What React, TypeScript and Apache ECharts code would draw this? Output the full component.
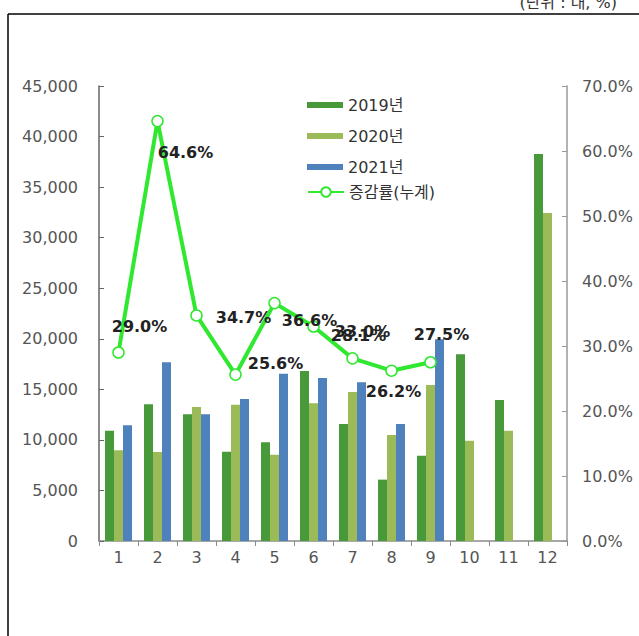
import React, { useEffect, useRef } from "react";
import * as echarts from "echarts";

const months = ["1", "2", "3", "4", "5", "6", "7", "8", "9", "10", "11", "12"];
const sales2019 = [10910, 13520, 12530, 8830, 9760, 16810, 11570, 6070, 8440, 18460, 13950, 38270];
const sales2020 = [8970, 8800, 13250, 13480, 8540, 13620, 14740, 10480, 15430, 9920, 10910, 32440];
const sales2021 = [11440, 17670, 12530, 14040, 16550, 16120, 15690, 11570, 19950, null, null, null];
const growthRate = [29.0, 64.6, 34.7, 25.6, 36.6, 33.0, 28.1, 26.2, 27.5, null, null, null];
const seriesNames = ["2019년", "2020년", "2021년", "증감률(누계)"];
const leftTicks = { min: 0, max: 45000, interval: 5000 };
const rightTicks = { min: 0, max: 70, interval: 10 };
const unitText = "(단위 : 대, %)";

// label placement relative to each point (style, not data)
const labelOffsets: [number, number][] = [
  [21, -26], [28, 31], [47, 2], [40, -11], [35, 17], [49, 5], [6, -23], [2, 21], [11, -28],
];

const FONT = "'DejaVu Sans', 'Noto Sans CJK KR', sans-serif";

export default function App() {
  const ref = useRef<HTMLDivElement>(null);
  useEffect(() => {
    if (!ref.current) return;
    const chart = echarts.init(ref.current, undefined, { renderer: "svg" });
    const lineColor = "#2fe82f";
    const option: any = {
      animation: false,
      backgroundColor: "#ffffff",
      textStyle: { fontFamily: FONT },
      grid: { left: 99, right: 72, top: 86, bottom: 95, containLabel: false },
      legend: [
        {
          data: seriesNames.slice(0, 3),
          orient: "vertical",
          left: 307,
          top: 96,
          padding: 0,
          itemWidth: 36,
          itemHeight: 6,
          itemGap: 13,
          icon: "rect",
          textStyle: { fontFamily: FONT, fontSize: 16, color: "#333", lineHeight: 18 },
        },
        {
          data: [seriesNames[3]],
          orient: "vertical",
          left: 307,
          top: 183,
          padding: 0,
          itemWidth: 36,
          itemHeight: 12,
          textStyle: { fontFamily: FONT, fontSize: 16, color: "#333", lineHeight: 18 },
        },
      ],
      xAxis: {
        type: "category",
        data: months,
        axisLine: { lineStyle: { color: "#8a8a8a", width: 1.5 } },
        axisTick: { show: true, alignWithLabel: false, length: 5, lineStyle: { color: "#8a8a8a" } },
        axisLabel: { fontFamily: FONT, fontSize: 16, color: "#555", margin: 8 },
      },
      yAxis: [
        {
          type: "value",
          ...leftTicks,
          axisLine: { show: true, lineStyle: { color: "#666", width: 1.5 } },
          axisTick: { show: true, inside: true, length: 5, lineStyle: { color: "#666" } },
          splitLine: { show: false },
          axisLabel: {
            fontFamily: FONT,
            fontSize: 16,
            color: "#555",
            margin: 21,
            formatter: (v: number) => v.toLocaleString("en-US"),
          },
        },
        {
          type: "value",
          ...rightTicks,
          position: "right",
          axisLine: { show: true, lineStyle: { color: "#999", width: 1.5 } },
          axisTick: { show: true, inside: true, length: 5, lineStyle: { color: "#999" } },
          splitLine: { show: false },
          axisLabel: {
            fontFamily: FONT,
            fontSize: 16,
            color: "#555",
            margin: 15,
            formatter: (v: number) => v.toFixed(1) + "%",
          },
        },
      ],
      series: [
        {
          name: seriesNames[0],
          type: "bar",
          data: sales2019,
          barWidth: 9,
          barGap: "0%",
          itemStyle: { color: "#47993a" },
        },
        {
          name: seriesNames[1],
          type: "bar",
          data: sales2020,
          barWidth: 9,
          barGap: "0%",
          itemStyle: { color: "#9bbb59" },
        },
        {
          name: seriesNames[2],
          type: "bar",
          data: sales2021,
          barWidth: 9,
          barGap: "0%",
          itemStyle: { color: "#4f81bd" },
        },
        {
          name: seriesNames[3],
          type: "line",
          yAxisIndex: 1,
          data: growthRate.map((v, i) =>
            v == null
              ? null
              : {
                  value: v,
                  label: { offset: labelOffsets[i] || [0, -20] },
                }
          ),
          symbol: "circle",
          symbolSize: 11,
          lineStyle: { color: lineColor, width: 4 },
          itemStyle: { color: "#ffffff", borderColor: lineColor, borderWidth: 1.5 },
          label: {
            show: true,
            position: "inside",
            fontFamily: FONT,
            fontSize: 16,
            fontWeight: "bold",
            color: "#222",
            textBorderWidth: 0,
            formatter: (p: any) => Number(p.value).toFixed(1) + "%",
          },
          z: 5,
        },
      ],
      graphic: [
        {
          type: "line",
          shape: { x1: 8, y1: 14, x2: 8, y2: 640 },
          style: { stroke: "#000", lineWidth: 1.5 },
        },
        {
          type: "line",
          shape: { x1: 8, y1: 14, x2: 645, y2: 14 },
          style: { stroke: "#000", lineWidth: 1.5 },
        },
        {
          type: "text",
          x: 617,
          y: 10,
          style: {
            text: unitText,
            fontFamily: FONT,
            fontSize: 16,
            fill: "#333",
            align: "right",
            verticalAlign: "bottom",
          },
        },
      ],
    };
    chart.setOption(option);
    return () => chart.dispose();
  }, []);
  return (
    <div
      ref={ref}
      style={{ position: "fixed", left: 0, top: 0, width: 639, height: 636, background: "#fff" }}
    />
  );
}
